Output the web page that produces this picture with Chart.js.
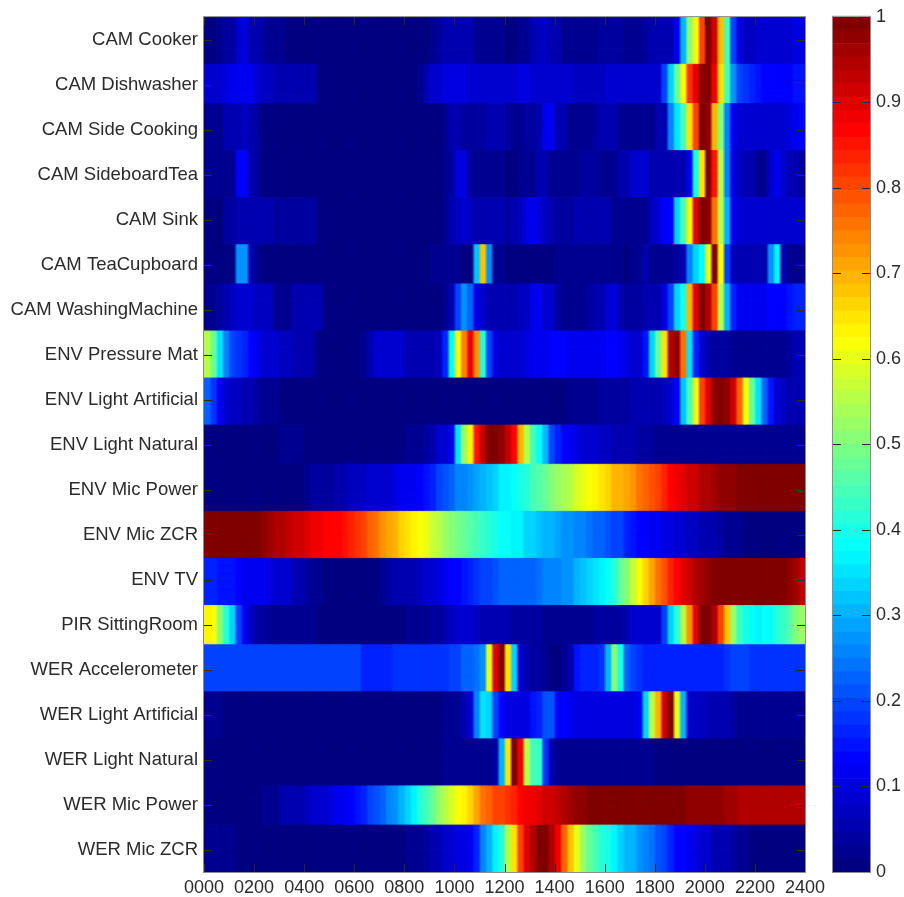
<!DOCTYPE html>
<html>
<head>
<meta charset="utf-8">
<script src="https://cdn.jsdelivr.net/npm/chart.js"></script>
<style>
  html, body { margin: 0; padding: 0; background: #fff; }
  canvas { position: absolute; left: 0; top: 0; filter: blur(0.5px); }
</style>
</head>
<body>
<canvas id="heatmap" width="904" height="897"></canvas>
<canvas id="colorbar" width="904" height="897"></canvas>
<script>
// == Data ==
const sensors = ["CAM Cooker", "CAM Dishwasher", "CAM Side Cooking", "CAM SideboardTea", "CAM Sink", "CAM TeaCupboard", "CAM WashingMachine", "ENV Pressure Mat", "ENV Light Artificial", "ENV Light Natural", "ENV Mic Power", "ENV Mic ZCR", "ENV TV", "PIR SittingRoom", "WER Accelerometer", "WER Light Artificial", "WER Light Natural", "WER Mic Power", "WER Mic ZCR"];
const timeTicks = [0, 200, 400, 600, 800, 1000, 1200, 1400, 1600, 1800, 2000, 2200, 2400];
const colorTicks = [0, 0.1, 0.2, 0.3, 0.4, 0.5, 0.6, 0.7, 0.8, 0.9, 1];
// the source raster gives the rows uneven heights, in sub-rows
const rowSpans = [6, 5, 6, 6, 6, 5, 6, 6, 6, 5, 6, 6, 6, 5, 6, 6, 6, 5, 6];

// activity per 15 minute slot, in percent
const camCooker = [1,1,3,4,4,9,10,6,5,4,3,2, 2,1,1,1,1,1,1,1,1,1,1,1, 1,1,1,1,1,1,1,1,1,1,1,1, 3,4,5,5,6,6,5,2,2,2,2,2, 1,1,2,2,6,7,7,5,5,3,2,2, 3,3,3,4,4,4,4,2,2,2,4,5, 5,5,5,12,30,50,62,80,100,92,68,45, 20,10,7,7,8,8,9,9,9,9,10,10];
const camDishwasher = [8,8,9,10,12,12,12,11,8,7,7,6, 6,6,6,6,6,6,1,1,1,1,1,1, 1,1,1,1,1,1,1,1,1,1,2,5, 8,9,10,10,10,10,9,8,8,8,9,9, 8,9,10,10,9,8,8,8,8,8,8,7, 7,7,7,7,9,9,9,9,8,8,8,8, 9,20,33,48,62,82,90,98,100,88,65,45, 27,20,18,16,15,13,13,13,13,13,15,15];
const camSideCooking = [2,2,3,5,5,6,7,5,4,1,1,1, 1,1,1,1,1,1,1,1,1,1,1,1, 1,1,1,1,1,1,1,1,1,1,1,1, 1,1,3,6,6,4,4,4,4,5,6,6, 4,3,3,4,4,5,11,11,5,5,3,3, 3,3,4,5,5,5,3,2,2,2,2,3, 5,6,25,35,45,65,80,100,97,70,50,25, 12,8,8,8,8,8,8,8,8,10,12,13];
const camSideboardTea = [2,2,3,3,3,13,13,6,4,1,1,1, 1,1,1,1,1,1,1,1,1,1,1,1, 1,1,1,1,1,1,1,1,1,1,1,1, 1,1,3,4,10,10,4,3,3,3,3,2, 1,1,2,2,2,5,5,3,2,2,2,2, 4,4,4,3,3,3,6,6,8,8,8,5, 5,5,5,5,6,12,40,65,100,85,55,25, 10,7,6,6,3,3,8,11,8,5,5,4];
const camSink = [1,1,1,4,4,5,5,5,5,5,5,4, 4,4,4,4,4,4,1,1,1,1,1,1, 1,1,1,1,1,1,1,1,1,1,1,1, 1,1,3,5,7,8,7,6,6,6,6,5, 4,5,7,10,11,10,7,6,4,4,4,5, 5,5,5,5,5,3,3,3,3,3,3,7, 8,14,14,33,45,62,90,100,98,75,55,30, 12,8,8,8,8,8,8,8,8,8,8,8];
const camTeaCupboard = [1,1,1,1,1,28,28,6,2,1,1,1, 1,1,1,1,1,1,1,1,1,1,1,1, 1,1,1,1,1,1,1,1,1,1,1,1, 3,3,3,3,3,1,1,32,68,28,3,3, 1,1,1,1,1,1,1,1,2,2,2,2, 2,2,2,2,2,2,2,1,2,3,5,3, 3,3,3,4,6,25,33,38,60,100,62,20, 7,5,5,5,5,5,28,36,6,3,3,3];
const camWashingMachine = [2,2,4,6,7,9,9,8,7,7,7,3, 3,3,6,6,6,6,6,1,1,1,1,1, 1,1,1,1,1,1,1,1,1,1,1,1, 1,1,3,6,20,28,22,10,8,5,5,5, 5,6,7,7,11,11,9,9,4,3,2,2, 3,4,6,6,8,10,5,4,4,4,5,5, 6,10,20,33,40,70,90,100,95,80,55,30, 17,12,12,12,12,12,13,14,14,15,16,17];
const envPressureMat = [55,47,35,25,20,18,17,13,12,9,9,8, 7,7,6,6,6,4,1,1,1,1,1,1, 1,2,5,8,8,8,8,8,6,6,6,6, 6,7,17,38,62,74,88,72,42,20,10,9, 9,9,9,10,11,11,12,13,13,13,12,11, 11,11,11,12,13,13,11,10,9,9,15,33, 48,65,95,97,75,35,16,8,5,4,4,4, 3,3,3,3,3,3,3,3,3,4,5,5];
const envLightArtificial = [22,18,12,9,7,7,6,6,4,3,3,2, 1,1,1,1,1,1,1,1,1,1,1,1, 1,1,1,1,1,1,1,1,1,1,1,1, 1,1,1,1,1,1,1,1,1,1,1,1, 1,1,1,1,1,1,1,1,1,1,2,2, 2,2,2,4,4,4,4,4,5,5,6,6, 6,7,8,13,32,45,60,80,90,98,100,98, 92,78,62,48,35,22,15,9,7,6,5,5];
const envLightNatural = [1,1,1,1,1,1,1,1,1,1,1,1, 2,2,2,2,1,1,1,1,1,1,1,1, 1,1,1,1,1,1,1,1,2,2,3,4, 5,8,8,12,35,52,63,85,93,100,100,97, 93,86,70,55,45,38,30,20,17,14,12,10, 8,8,8,7,7,6,6,6,5,4,4,4, 3,3,3,3,3,3,3,3,3,3,3,3, 3,3,2,2,2,2,2,2,2,2,2,2];
const envMicPower = [1,1,1,1,1,1,1,1,1,1,1,1, 1,1,1,1,2,4,4,4,4,5,6,7, 7,7,8,9,9,9,10,11,12,12,13,15, 17,19,21,23,25,26,28,29,31,32,34,36, 37,38,40,42,44,46,48,50,52,54,56,58, 60,62,63,65,67,69,70,71,73,75,77,79, 81,84,87,89,90,91,92,94,95,96,97,98, 98,99,100,100,100,100,100,100,100,100,100,100];
const envMicZcr = [100,100,100,100,100,100,100,100,100,97,96,95, 94,93,92,91,90,89,88,87,86,86,85,84, 82,80,78,76,73,71,69,66,65,63,62,60, 57,55,53,51,49,48,46,44,43,41,40,39, 38,37,36,34,33,32,31,30,29,28,27,26, 25,24,23,22,21,20,19,17,15,14,13,12, 11,10,10,9,8,7,7,6,5,5,4,3, 2,2,1,1,1,1,1,1,1,1,1,1];
const envTv = [17,17,15,15,15,14,12,12,12,11,10,9, 8,8,6,5,4,3,2,1,1,1,1,1, 1,1,1,1,2,4,5,5,5,6,7,8, 9,10,11,13,14,15,17,18,19,20,21,22, 22,22,22,22,23,24,25,25,26,27,28,30, 32,34,35,36,38,42,47,51,57,62,66,71, 75,79,83,87,90,92,94,96,98,100,100,100, 100,100,100,100,100,100,100,100,100,98,96,93];
const pirSittingRoom = [63,62,50,42,33,20,12,7,4,4,3,3, 3,3,3,3,3,3,1,1,1,1,1,1, 1,1,1,1,1,1,1,1,2,2,2,3, 4,4,6,7,8,8,8,7,6,5,5,5, 5,4,4,4,4,4,3,2,2,2,2,2, 2,3,4,4,4,4,4,6,8,8,8,8, 9,20,33,42,55,72,90,100,100,95,80,68, 52,43,40,38,37,38,39,41,43,46,50,52];
const werAccelerometer = [20,20,20,19,19,19,19,19,19,19,19,19, 19,19,19,19,19,19,19,19,19,19,19,19, 19,17,17,17,17,17,18,18,18,18,18,18, 18,18,18,20,20,22,23,24,27,60,90,100, 65,33,8,5,4,4,3,1,1,3,6,15, 16,16,17,18,30,50,40,22,19,18,17,17, 17,17,17,17,17,17,17,17,17,17,17,18, 19,19,19,18,18,18,18,18,18,18,18,18];
const werLightArtificial = [3,3,3,1,1,1,1,1,1,1,1,1, 1,1,1,1,1,1,1,1,1,1,1,1, 1,1,1,1,1,1,1,1,1,1,1,1, 1,1,2,2,3,5,8,25,35,33,20,13, 10,10,10,10,15,16,21,21,13,13,12,10, 10,10,10,10,10,10,10,10,10,12,33,55, 70,92,100,60,30,9,7,7,6,6,5,5, 4,3,2,2,2,2,2,2,2,2,2,2];
const werLightNatural = [1,1,1,1,1,1,1,1,1,1,1,1, 1,1,1,1,1,1,1,1,1,1,1,1, 1,1,1,1,1,1,1,1,1,1,1,1, 1,1,2,2,2,2,2,2,2,3,4,30, 65,100,88,55,45,43,18,5,3,3,3,3, 2,2,2,2,2,2,2,2,2,2,2,2, 1,1,1,1,1,1,1,1,1,1,1,1, 1,1,1,1,1,1,1,1,1,1,1,1];
const werMicPower = [1,1,1,1,1,1,1,1,1,3,3,3, 5,5,5,6,7,8,9,9,10,11,12,13, 15,17,19,21,23,26,28,31,33,37,41,44, 48,52,55,58,61,64,66,71,75,78,80,81, 82,84,86,88,89,90,91,92,93,94,96,97, 98,99,100,100,100,100,100,100,100,100,100,100, 100,99,99,99,99,98,98,98,98,97,97,96, 96,95,95,94,94,94,94,94,94,94,94,94];
const werMicZcr = [2,2,2,2,2,1,1,1,1,1,1,1, 1,1,1,1,1,1,1,1,1,1,1,1, 1,1,1,1,1,1,1,1,2,2,2,4, 5,6,8,9,10,10,12,17,25,30,36,42, 55,65,80,90,95,100,100,95,88,78,68,60, 53,48,45,42,40,37,33,31,30,27,26,24, 21,19,17,14,13,11,10,8,8,6,6,5, 4,3,2,1,1,1,1,1,1,1,1,1];

const rows = [camCooker, camDishwasher, camSideCooking, camSideboardTea, camSink, camTeaCupboard, camWashingMachine, envPressureMat, envLightArtificial, envLightNatural, envMicPower, envMicZcr, envTv, pirSittingRoom, werAccelerometer, werLightArtificial, werLightNatural, werMicPower, werMicZcr];

// == Helpers ==
const SLOT = 25; // width of one slot on the 0000-2400 axis
const LEVELS = 64;

// every row repeated over its sub-rows
const subRows = rows.flatMap((r, i) => Array(rowSpans[i]).fill(r));
const subCount = subRows.length;

// matlab style jet map, 64 steps
function jet(v) {
  const t = Math.min(LEVELS - 1, Math.floor(v * LEVELS)) / (LEVELS - 1);
  const ch = (c) => Math.round(255 * Math.max(0, Math.min(1, 1.5 - Math.abs(4 * t - c))));
  return `rgb(${ch(3)},${ch(2)},${ch(1)})`;
}

// the reference is a resampled image, so soften the cells sideways
const softenCells = {
  id: "softenCells",
  afterDatasetsDraw(chart) {
    const { ctx, chartArea: a, canvas } = chart;
    const w = a.right - a.left, h = a.bottom - a.top;
    const copy = document.createElement("canvas");
    copy.width = w;
    copy.height = h;
    copy.getContext("2d").drawImage(canvas, a.left, a.top, w, h, 0, 0, w, h);
    ctx.save();
    ctx.beginPath();
    ctx.rect(a.left, a.top, w, h);
    ctx.clip();
    [-1, 1].forEach((dx, k) => {
      ctx.globalAlpha = 1 / (k + 2);
      ctx.drawImage(copy, a.left + dx, a.top);
    });
    ctx.restore();
  }
};

// ticks point inwards from both sides of the box, so the library's own can't be used
const insideTicks = {
  id: "insideTicks",
  afterDraw(chart) {
    const { ctx, chartArea: a, scales } = chart;
    ctx.save();
    ctx.strokeStyle = "#2a2a2a";
    ctx.lineWidth = 1;
    ctx.beginPath();
    if (scales.x.options.display) {
      scales.x.ticks.forEach((t, i) => {
        const px = Math.round(scales.x.getPixelForTick(i)) + 0.5;
        ctx.moveTo(px, a.top); ctx.lineTo(px, a.top + 8);
        ctx.moveTo(px, a.bottom); ctx.lineTo(px, a.bottom - 8);
      });
    }
    scales.y.ticks.forEach((t, i) => {
      const py = Math.round(scales.y.getPixelForTick(i)) + 0.5;
      ctx.moveTo(a.left, py); ctx.lineTo(a.left + 8, py);
      ctx.moveTo(a.right, py); ctx.lineTo(a.right - 8, py);
    });
    ctx.stroke();
    ctx.strokeStyle = "#8c8c8c";
    ctx.strokeRect(a.left - 0.5, a.top - 0.5, a.right - a.left + 1, a.bottom - a.top + 1);
    ctx.restore();
  }
};

Chart.defaults.font.family = "'Liberation Sans', Arial, sans-serif";
Chart.defaults.font.size = 18;
Chart.defaults.color = "#2b2b2b";
Chart.defaults.animation = false;
Chart.defaults.responsive = false;
Chart.defaults.plugins.legend.display = false;
Chart.defaults.plugins.tooltip.enabled = false;

// == Heatmap: one stacked bar dataset per time slot ==
new Chart(document.getElementById("heatmap"), {
  type: "bar",
  data: {
    labels: subRows.map((_, i) => i),
    datasets: camCooker.map((_, slot) => ({
      data: subRows.map(() => SLOT),
      backgroundColor: subRows.map(r => jet(r[slot] / 100)),
      borderWidth: 0,
      barPercentage: 1,
      categoryPercentage: 1
    }))
  },
  options: {
    indexAxis: "y",
    layout: { padding: { top: 15, right: 99 } },
    scales: {
      x: {
        stacked: true,
        min: 0,
        max: 2400,
        afterBuildTicks(scale) { scale.ticks = timeTicks.map(value => ({ value })); },
        afterFit(scale) { scale.height = 25; },
        grid: { display: false, drawTicks: false },
        border: { display: false },
        ticks: {
          autoSkip: false,
          maxRotation: 0,
          padding: 5,
          callback: v => String(v).padStart(4, "0")
        }
      },
      y: {
        stacked: true,
        // the labels stay evenly spaced even though the rows are not
        afterBuildTicks(scale) {
          scale.ticks = sensors.map((_, i) => ({ value: subCount * (i + 0.5) / sensors.length - 0.5 }));
        },
        afterFit(scale) { scale.width = 204; },
        grid: { display: false, drawTicks: false },
        border: { display: false },
        ticks: {
          autoSkip: false,
          padding: 6,
          font: { size: 18.5 },
          callback: (v, i) => sensors[i]
        }
      }
    }
  },
  plugins: [softenCells, insideTicks]
});

// == Colour bar ==
const barSteps = [];
for (let i = 0; i < LEVELS; i++) {
  barSteps.push({
    data: [1 / LEVELS],
    backgroundColor: jet((i + 0.5) / LEVELS),
    borderWidth: 0,
    barPercentage: 1,
    categoryPercentage: 1
  });
}

new Chart(document.getElementById("colorbar"), {
  type: "bar",
  data: { labels: [""], datasets: barSteps },
  options: {
    layout: { padding: { top: 15, bottom: 25, left: 833 } },
    scales: {
      x: { stacked: true, display: false },
      y: {
        stacked: true,
        position: "right",
        min: 0,
        max: 1,
        afterBuildTicks(scale) { scale.ticks = colorTicks.map(value => ({ value })); },
        afterFit(scale) { scale.width = 34; },
        grid: { display: false, drawTicks: false },
        border: { display: false },
        ticks: { padding: 6, callback: v => String(v) }
      }
    }
  },
  plugins: [insideTicks]
});
</script>
</body>
</html>
